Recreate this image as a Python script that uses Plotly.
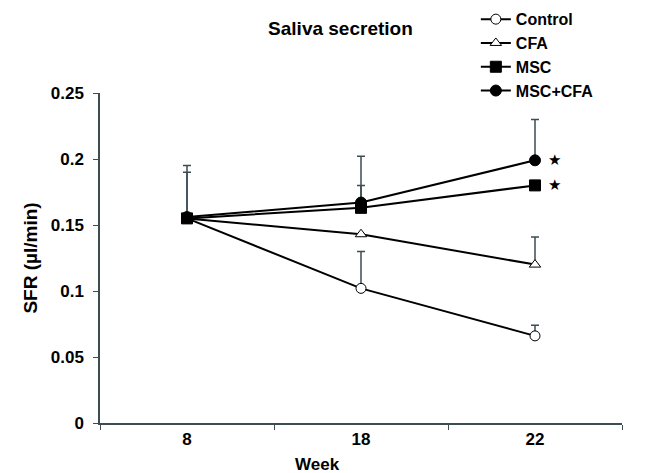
import plotly.graph_objects as go

weeks = ["8", "18", "22"]
control = [0.155, 0.102, 0.066]
cfa = [0.155, 0.143, 0.120]
msc = [0.155, 0.163, 0.180]
msc_cfa = [0.156, 0.167, 0.199]

# upper SD only
control_err = [0.0, 0.028, 0.008]
cfa_err = [0.0, 0.0, 0.021]
msc_err = [0.035, 0.017, 0.0]
msc_cfa_err = [0.039, 0.035, 0.031]

y_ticks = [0, 0.05, 0.1, 0.15, 0.2, 0.25]
y_tick_labels = ["0", "0.05", "0.1", "0.15", "0.2", "0.25"]

FONT = "Liberation Sans, Arial, sans-serif"
ERR_COLOR = "#3d4c52"

series = [
    ("Control", control, control_err, "circle", "white"),
    ("CFA", cfa, cfa_err, "triangle-up", "white"),
    ("MSC", msc, msc_err, "square", "black"),
    ("MSC+CFA", msc_cfa, msc_cfa_err, "circle", "black"),
]

fig = go.Figure()
for name, vals, err, sym, fill in series:
    fig.add_trace(go.Scatter(
        x=weeks, y=vals, name=name, mode="lines+markers",
        line=dict(color="black", width=2),
        marker=dict(symbol=sym, size=11 if fill == "black" else 10, color=fill,
                    line=dict(color="black", width=1)),
        error_y=dict(type="data", array=err, arrayminus=[0] * len(err),
                     symmetric=False, color=ERR_COLOR, thickness=1.5, width=4),
    ))

# significance markers at week 22 (category index 2)
for vals in (msc_cfa, msc):
    fig.add_annotation(x=len(weeks) - 1, y=vals[-1], text="★", showarrow=False,
                       xshift=19, yshift=0,
                       font=dict(size=15, color="black", family="DejaVu Sans"))

fig.update_layout(
    width=646, height=473,
    margin=dict(l=100, r=24, t=93, b=50, autoexpand=False),
    paper_bgcolor="white", plot_bgcolor="white",
    font=dict(family=FONT, size=16, color="black", weight="bold"),
    title=dict(text="Saliva secretion", x=0.527, xanchor="center",
               y=0.94, yanchor="middle",
               font=dict(size=19, weight="bold")),
    showlegend=True,
    legend=dict(x=0.72, xanchor="left", y=1.275, yanchor="top",
                font=dict(size=16, family=FONT, weight="bold"), tracegroupgap=0,
                itemwidth=30, bgcolor="rgba(0,0,0,0)"),
    xaxis=dict(type="category", range=[-0.5, 2.5], showline=True,
               linecolor=ERR_COLOR, linewidth=1.5, ticks="outside",
               tickson="boundaries", ticklen=5, tickcolor=ERR_COLOR,
               showgrid=False, zeroline=False,
               tickfont=dict(size=17, weight="bold")),
    yaxis=dict(range=[0, 0.25], tickvals=y_ticks, ticktext=y_tick_labels,
               showline=True, linecolor=ERR_COLOR, linewidth=1.5,
               ticks="outside", ticklen=5, tickcolor=ERR_COLOR,
               ticklabelstandoff=6,
               showgrid=False, zeroline=False,
               title=dict(text="SFR (µl/min)", font=dict(size=19, weight="bold"),
                          standoff=8),
               tickfont=dict(size=17, weight="bold")),
)

fig.add_annotation(text="Week", xref="paper", yref="paper",
                   x=0.417, y=-0.125, xanchor="center", yanchor="middle",
                   showarrow=False, font=dict(size=17, weight="bold"))

fig.write_html("out.html")
